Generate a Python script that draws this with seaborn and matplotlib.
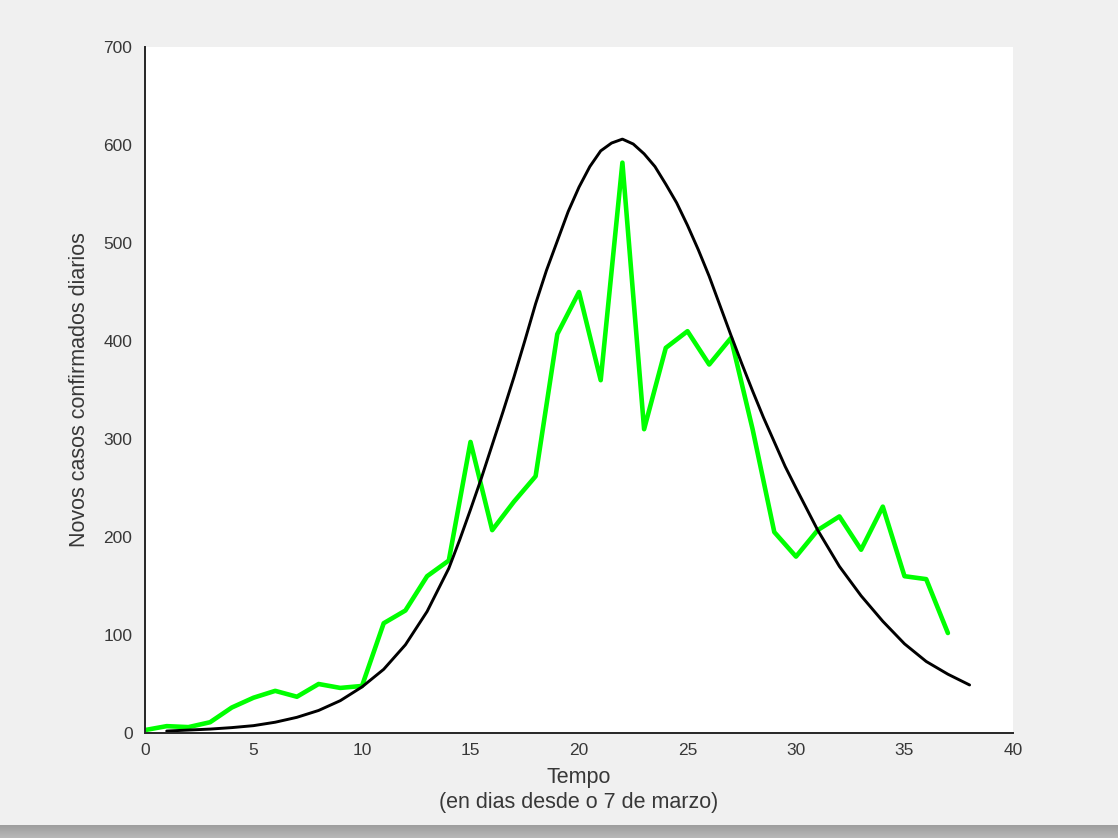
import numpy as np
import pandas as pd
import matplotlib
matplotlib.use("Agg")
import matplotlib.pyplot as plt
import seaborn as sns

# Observed daily new confirmed cases (green)
dias_obs = list(range(0, 38))
casos_obs = [3, 7, 6, 11, 26, 36, 43, 37, 50, 46, 48, 112, 125, 160, 176, 297,
             207, 236, 262, 407, 450, 360, 582, 310, 393, 410, 376, 403, 310,
             205, 180, 207, 221, 187, 231, 160, 157, 102]

# Model curve (black)
dias_mod = [1, 2, 3, 4, 5, 6, 7, 8, 9, 10, 11, 12, 13, 14,
            14.5, 15, 15.5, 16, 16.5, 17, 17.5, 18, 18.5, 19, 19.5, 20, 20.5,
            21, 21.5, 22, 22.5, 23, 23.5, 24, 24.5, 25, 25.5, 26, 26.5, 27,
            27.5, 28, 28.5, 29, 29.5, 30, 31, 32, 33, 34, 35, 36, 37, 38]
casos_mod = [2, 3, 4, 5.5, 7.5, 11, 16, 23, 33, 47, 65, 90, 124, 168,
             197, 228, 260, 294, 328, 363, 400, 438, 472, 502, 532, 557, 578,
             594, 602, 606, 601, 591, 578, 560, 541, 518, 493, 466, 436, 406,
             377, 349, 322, 297, 272, 250, 207, 170, 140, 114, 91, 73, 60, 49]

x_ticks = [0, 5, 10, 15, 20, 25, 30, 35, 40]
y_ticks = [0, 100, 200, 300, 400, 500, 600, 700]
x_label = "Tempo\n(en dias desde o 7 de marzo)"
y_label = "Novos casos confirmados diarios"

sns.set_style("white")
plt.rcParams['font.family'] = ['Liberation Sans', 'DejaVu Sans']

fig = plt.figure(figsize=(11.18, 8.38), dpi=100)
fig.patch.set_facecolor("#f0f0f0")

# window shadow at the bottom
sh = fig.add_axes([0, 0, 1, 13 / 838])
grad = np.linspace(0, 1, 20).reshape(-1, 1)
sh.imshow(grad, aspect="auto", cmap=matplotlib.colors.LinearSegmentedColormap.from_list(
    "sh", ["#9c9c9c", "#b8b8b8"]), extent=[0, 1, 0, 1])
sh.set_axis_off()

ax = fig.add_axes([145 / 1118, 105 / 838, 868 / 1118, 686 / 838])
ax.set_facecolor("white")

df_obs = pd.DataFrame({"dia": dias_obs, "casos": casos_obs})
df_mod = pd.DataFrame({"dia": dias_mod, "casos": casos_mod})

sns.lineplot(data=df_obs, x="dia", y="casos", ax=ax, color="#00ff00", linewidth=3.3,
             sort=False, estimator=None)
sns.lineplot(data=df_mod, x="dia", y="casos", ax=ax, color="black", linewidth=2.1,
             sort=False, estimator=None)

ax.set_xlim(0, 40)
ax.set_ylim(0, 700)
ax.set_xticks(x_ticks)
ax.set_yticks(y_ticks)
ax.set_xticklabels([str(t) for t in x_ticks])
ax.set_yticklabels([str(t) for t in y_ticks])

for s in ["top", "right"]:
    ax.spines[s].set_visible(False)
for s in ["left", "bottom"]:
    ax.spines[s].set_color("#262626")
    ax.spines[s].set_linewidth(1.4)

ax.tick_params(axis="both", direction="in", length=6, width=1.4, color="#262626",
               labelsize=12.5, labelcolor="#383838")
ax.tick_params(axis="x", pad=7)
ax.tick_params(axis="y", pad=9)

ax.set_xlabel(x_label, fontsize=15.5, color="#383838", labelpad=7, linespacing=1.2)
ax.set_ylabel(y_label, fontsize=15.5, color="#383838", labelpad=10)

fig.savefig("out.png", dpi=100, facecolor=fig.get_facecolor())
